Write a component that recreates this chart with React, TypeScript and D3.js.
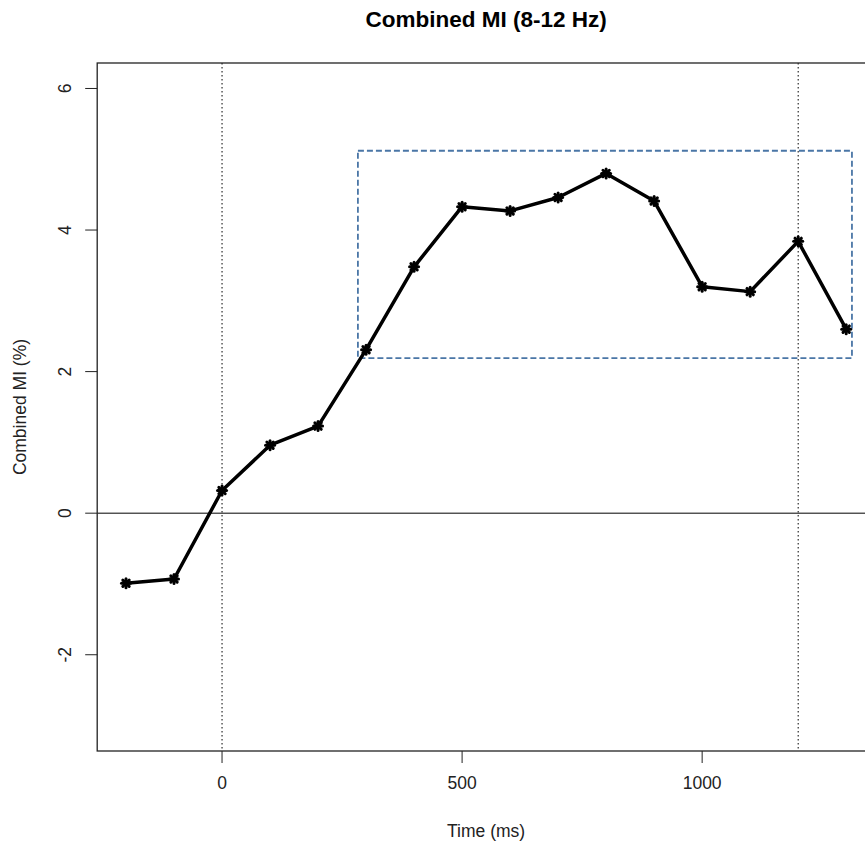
import React, { useEffect, useRef } from "react";
import * as d3 from "d3";

const times = [-200, -100, 0, 100, 200, 300, 400, 500, 600, 700, 800, 900, 1000, 1100, 1200, 1300];
const miValues = [-0.99, -0.93, 0.32, 0.96, 1.23, 2.31, 3.48, 4.33, 4.27, 4.46, 4.80, 4.41, 3.20, 3.13, 3.84, 2.60];
const xTicks = [0, 500, 1000];
const yTicks = [-2, 0, 2, 4, 6];
const vLines = [0, 1200];
const boxX = [283, 1312];
const boxY = [2.19, 5.12];
const title = "Combined MI (8-12 Hz)";
const xLabel = "Time (ms)";
const yLabel = "Combined MI (%)";

const W = 865;
const H = 841;
const L = 97.2;
const R = 875;
const T = 63;
const B = 751;
const FONT = "'Liberation Sans', Arial, sans-serif";
const FS = 17.5;

export default function App() {
  const ref = useRef<SVGSVGElement | null>(null);

  useEffect(() => {
    document.body.style.margin = "0";
    const svg = d3.select(ref.current);
    svg.selectAll("*").remove();

    const x = d3.scaleLinear().domain([-260, 1360]).range([L, R]);
    const y = d3.scaleLinear().domain([-3.36, 6.36]).range([B, T]);

    const clip = svg.append("defs").append("clipPath").attr("id", "plotclip");
    clip.append("rect").attr("x", L).attr("y", T).attr("width", R - L).attr("height", B - T);

    const g = svg.append("g").attr("clip-path", "url(#plotclip)");

    g.append("line")
      .attr("x1", L).attr("x2", R)
      .attr("y1", y(0)).attr("y2", y(0))
      .attr("stroke", "#000").attr("stroke-width", 1);

    g.selectAll("line.v").data(vLines).enter().append("line")
      .attr("class", "v")
      .attr("x1", (d) => x(d)).attr("x2", (d) => x(d))
      .attr("y1", T).attr("y2", B)
      .attr("stroke", "#000").attr("stroke-width", 1)
      .attr("stroke-dasharray", "1.5,2.5");

    g.append("rect")
      .attr("x", x(boxX[0])).attr("y", y(boxY[1]))
      .attr("width", x(boxX[1]) - x(boxX[0]))
      .attr("height", y(boxY[0]) - y(boxY[1]))
      .attr("fill", "none")
      .attr("stroke", "#4a76a6").attr("stroke-width", 1.8)
      .attr("stroke-dasharray", "6,3");

    const pts = times.map((t, i) => [t, miValues[i]] as [number, number]);
    const line = d3.line<[number, number]>().x((d) => x(d[0])).y((d) => y(d[1]));
    g.append("path")
      .attr("d", line(pts) as string)
      .attr("fill", "none")
      .attr("stroke", "#000")
      .attr("stroke-width", 3.5)
      .attr("stroke-linejoin", "round");

    const s = 4.5;
    const d2 = s * 0.7071;
    const mk = g.selectAll("g.mk").data(pts).enter().append("g")
      .attr("class", "mk")
      .attr("transform", (d) => `translate(${x(d[0])},${y(d[1])})`);
    const segs = [
      [-s, 0, s, 0], [0, -s, 0, s], [-d2, -d2, d2, d2], [-d2, d2, d2, -d2],
    ];
    segs.forEach((sg) => {
      mk.append("line")
        .attr("x1", sg[0]).attr("y1", sg[1]).attr("x2", sg[2]).attr("y2", sg[3])
        .attr("stroke", "#000").attr("stroke-width", 3)
        .attr("stroke-linecap", "round");
    });

    svg.append("rect")
      .attr("x", L).attr("y", T).attr("width", R - L).attr("height", B - T)
      .attr("fill", "none").attr("stroke", "#222").attr("stroke-width", 1.3);

    const xa = svg.append("g");
    xTicks.forEach((t) => {
      xa.append("line")
        .attr("x1", x(t)).attr("x2", x(t))
        .attr("y1", B).attr("y2", B + 12)
        .attr("stroke", "#222").attr("stroke-width", 1);
      xa.append("text")
        .attr("x", x(t)).attr("y", B + 38)
        .attr("text-anchor", "middle")
        .attr("font-family", FONT).attr("font-size", FS)
        .attr("fill", "#222")
        .text(String(t));
    });

    const ya = svg.append("g");
    yTicks.forEach((t) => {
      ya.append("line")
        .attr("x1", L - 12).attr("x2", L)
        .attr("y1", y(t)).attr("y2", y(t))
        .attr("stroke", "#222").attr("stroke-width", 1);
      ya.append("text")
        .attr("transform", `translate(${L - 26},${y(t)}) rotate(-90)`)
        .attr("text-anchor", "middle")
        .attr("font-family", FONT).attr("font-size", FS)
        .attr("fill", "#222")
        .text(String(t));
    });

    svg.append("text")
      .attr("x", (L + R) / 2).attr("y", 27)
      .attr("text-anchor", "middle")
      .attr("font-family", FONT).attr("font-size", 22.5).attr("font-weight", "bold")
      .attr("fill", "#000")
      .text(title);

    svg.append("text")
      .attr("x", (L + R) / 2).attr("y", 837)
      .attr("text-anchor", "middle")
      .attr("font-family", FONT).attr("font-size", FS)
      .attr("fill", "#222")
      .text(xLabel);

    svg.append("text")
      .attr("transform", `translate(26,${(T + B) / 2}) rotate(-90)`)
      .attr("text-anchor", "middle")
      .attr("font-family", FONT).attr("font-size", FS)
      .attr("fill", "#222")
      .text(yLabel);
  }, []);

  return (
    <svg
      ref={ref}
      width={W}
      height={H}
      style={{ position: "absolute", left: 0, top: 0, display: "block", background: "#fff" }}
    />
  );
}
